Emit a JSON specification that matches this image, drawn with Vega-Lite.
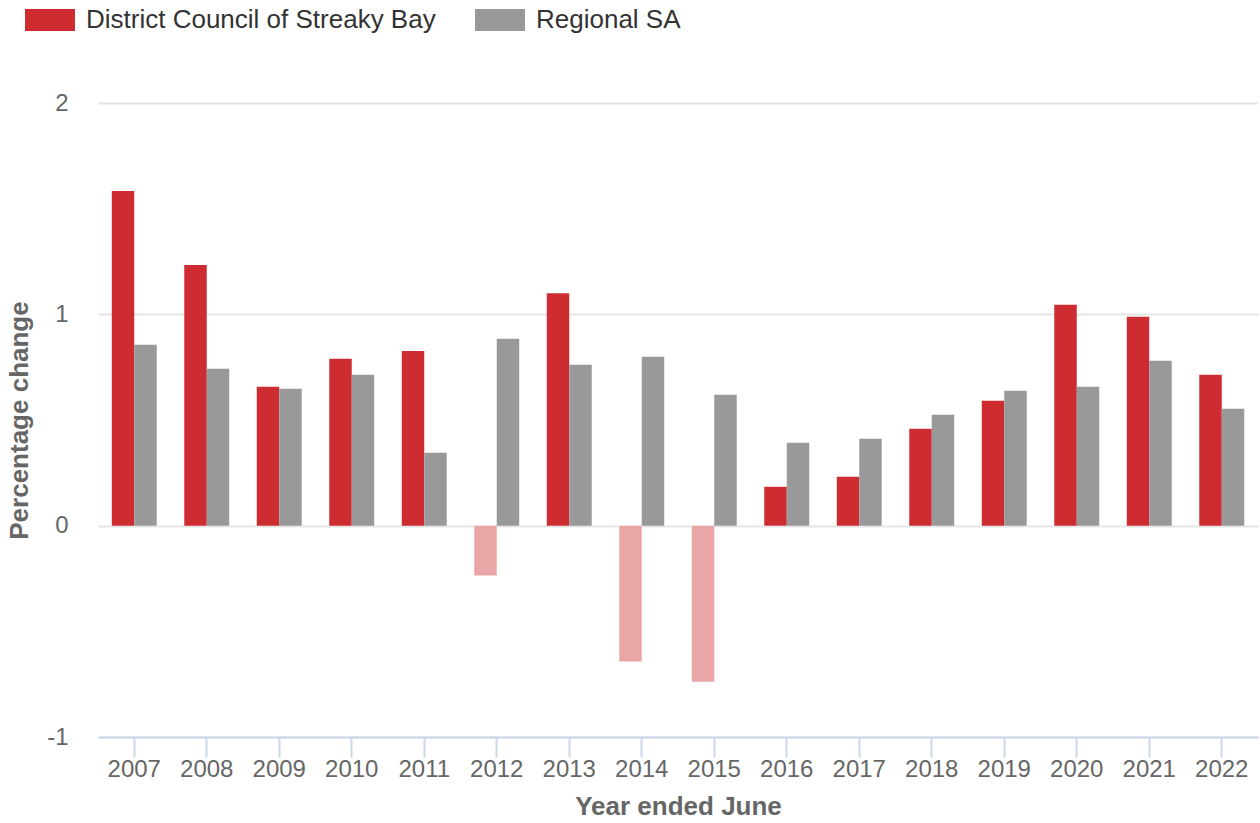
{
  "$schema": "https://vega.github.io/schema/vega-lite/v6.json",
  "autosize": {"type": "none"},
  "width": 1160,
  "height": 634,
  "padding": {"left": 98, "top": 103, "right": 2, "bottom": 86},
  "background": "white",
  "config": {
    "view": {"stroke": null},
    "font": "Liberation Sans"
  },
  "data": {
    "values": [
      {"year": "2007", "series": "District Council of Streaky Bay", "value": 1.584},
      {"year": "2007", "series": "Regional SA", "value": 0.856},
      {"year": "2008", "series": "District Council of Streaky Bay", "value": 1.234},
      {"year": "2008", "series": "Regional SA", "value": 0.742},
      {"year": "2009", "series": "District Council of Streaky Bay", "value": 0.657},
      {"year": "2009", "series": "Regional SA", "value": 0.648},
      {"year": "2010", "series": "District Council of Streaky Bay", "value": 0.79},
      {"year": "2010", "series": "Regional SA", "value": 0.714},
      {"year": "2011", "series": "District Council of Streaky Bay", "value": 0.827},
      {"year": "2011", "series": "Regional SA", "value": 0.345},
      {"year": "2012", "series": "District Council of Streaky Bay", "value": -0.236},
      {"year": "2012", "series": "Regional SA", "value": 0.884},
      {"year": "2013", "series": "District Council of Streaky Bay", "value": 1.1},
      {"year": "2013", "series": "Regional SA", "value": 0.761},
      {"year": "2014", "series": "District Council of Streaky Bay", "value": -0.643},
      {"year": "2014", "series": "Regional SA", "value": 0.799},
      {"year": "2015", "series": "District Council of Streaky Bay", "value": -0.738},
      {"year": "2015", "series": "Regional SA", "value": 0.619},
      {"year": "2016", "series": "District Council of Streaky Bay", "value": 0.184},
      {"year": "2016", "series": "Regional SA", "value": 0.392},
      {"year": "2017", "series": "District Council of Streaky Bay", "value": 0.232},
      {"year": "2017", "series": "Regional SA", "value": 0.411},
      {"year": "2018", "series": "District Council of Streaky Bay", "value": 0.459},
      {"year": "2018", "series": "Regional SA", "value": 0.525},
      {"year": "2019", "series": "District Council of Streaky Bay", "value": 0.591},
      {"year": "2019", "series": "Regional SA", "value": 0.638},
      {"year": "2020", "series": "District Council of Streaky Bay", "value": 1.045},
      {"year": "2020", "series": "Regional SA", "value": 0.657},
      {"year": "2021", "series": "District Council of Streaky Bay", "value": 0.988},
      {"year": "2021", "series": "Regional SA", "value": 0.78},
      {"year": "2022", "series": "District Council of Streaky Bay", "value": 0.714},
      {"year": "2022", "series": "Regional SA", "value": 0.553}
    ]
  },
  "mark": {"type": "bar"},
  "encoding": {
    "x": {
      "field": "year",
      "type": "ordinal",
      "scale": {"paddingInner": 0.38, "paddingOuter": 0.19},
      "axis": {
        "title": "Year ended June",
        "titleFontSize": 26,
        "titleFontWeight": "bold",
        "titleColor": "#666666",
        "titlePadding": 12,
        "labelAngle": 0,
        "labelFontSize": 24,
        "labelColor": "#666666",
        "labelPadding": 0,
        "tickSize": 20,
        "tickColor": "#ccd6eb",
        "tickWidth": 2,
        "domainColor": "#ccd6eb",
        "domainWidth": 2,
        "grid": false,
        "zindex": 1
      }
    },
    "xOffset": {
      "field": "series",
      "type": "nominal",
      "sort": ["District Council of Streaky Bay", "Regional SA"],
      "scale": {"paddingInner": 0, "paddingOuter": 0}
    },
    "y": {
      "field": "value",
      "type": "quantitative",
      "scale": {"domain": [-1, 2], "nice": false, "zero": false},
      "axis": {
        "title": "Percentage change",
        "titleFontSize": 26,
        "titleFontWeight": "bold",
        "titleColor": "#666666",
        "titlePadding": 14,
        "values": [-1, 0, 1, 2],
        "labelExpr": "datum.value + ''",
        "labelFontSize": 24,
        "labelColor": "#666666",
        "labelPadding": 30,
        "ticks": false,
        "domain": false,
        "grid": true,
        "gridColor": "#e6e6e6",
        "gridWidth": 2
      }
    },
    "color": {
      "condition": {"test": "datum.value < 0", "value": "#eaa6a7"},
      "field": "series",
      "type": "nominal",
      "sort": ["District Council of Streaky Bay", "Regional SA"],
      "scale": {
        "domain": ["District Council of Streaky Bay", "Regional SA"],
        "range": ["#cd2c31", "#999999"]
      },
      "legend": {
        "title": null,
        "orient": "none",
        "legendX": -73,
        "legendY": -108,
        "direction": "horizontal",
        "padding": 0,
        "symbolType": "M-1,-0.44L1,-0.44L1,0.44L-1,0.44Z",
        "symbolSize": 2500,
        "symbolStrokeWidth": 0,
        "symbolOpacity": 1,
        "labelFontSize": 26,
        "labelColor": "#333333",
        "labelOffset": 11,
        "labelLimit": 600,
        "columnPadding": 39
      }
    }
  }
}
